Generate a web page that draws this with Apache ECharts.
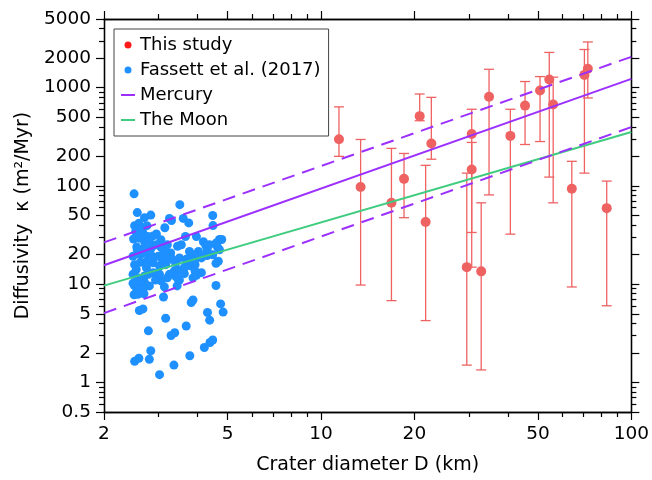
<!DOCTYPE html>
<html>
<head>
<meta charset="utf-8">
<title>Diffusivity vs crater diameter</title>
<script src="https://cdn.jsdelivr.net/npm/echarts@6/dist/echarts.min.js"></script>
<style>
  html, body { margin: 0; padding: 0; background: #fff; }
  #main { width: 652px; height: 480px; }
</style>
</head>
<body>
<div id="main"></div>
<script>
// tick values
var xMajor = [2, 5, 10, 20, 50, 100];
var xMinor = [3, 4, 6, 7, 8, 9, 30, 40, 60, 70, 80, 90];
var yMajor = [0.5, 1, 2, 5, 10, 20, 50, 100, 200, 500, 1000, 2000, 5000];
var yMinor = [0.6, 0.7, 0.8, 0.9, 3, 4, 6, 7, 8, 9, 30, 40, 60, 70, 80, 90,
              300, 400, 600, 700, 800, 900, 3000, 4000];

// this study: diameter, diffusivity, lower / upper error
var studyD    = [11.43, 13.42, 16.87, 18.52, 20.8, 21.74, 22.68, 29.5, 30.6, 30.6, 32.83,
                 34.8, 40.76, 45.45, 50.8, 54.4, 56.0, 64.3, 70.6, 72.4, 83.3];
var studyK    = [299, 97.5, 67.3, 118, 513, 42.9, 270, 14.9, 338, 147, 13.5,
                 810, 323, 657, 937, 1209, 673, 93.7, 1349, 1561, 59.4];
var studyLow  = [200, 9.8, 6.8, 47.5, 461, 4.26, 187, 1.5, 33.6, 14.9, 1.34,
                 81, 32.3, 264, 283, 123, 67.3, 9.37, 135, 786, 6.03];
var studyHigh = [638, 297, 241, 214, 862, 162, 797, 135, 603, 277, 67.3,
                 1539, 603, 1155, 1297, 2284, 1279, 178, 2447, 2920, 112];

// Fassett et al. (2017)
var fassettD = [2.50,2.56,2.83,2.70,3.51,3.25,3.30,3.60,3.75,4.48,4.49,3.14,2.95,3.97,4.71,4.79,4.59,3.55,4.18,4.26,
  3.08,3.77,3.87,4.30,4.03,4.48,4.67,4.59,4.12,3.87,3.97,3.05,3.13,3.44,4.59,2.50,3.11,3.82,3.87,4.75,
  4.84,4.31,4.38,2.60,2.67,3.16,3.68,2.78,3.29,3.38,4.39,4.48,4.21,2.83,2.51,2.59,2.80,3.78,3.36,3.02,
  2.51,2.59,2.62,2.53,2.67,2.49,2.59,2.70,2.77,2.88,2.56,2.62,2.72,2.84,2.95,3.05,3.16,2.51,2.62,2.75,
  2.88,3.02,3.16,3.28,3.31,3.45,3.68,3.50,3.82,3.93,2.48,2.57,2.70,2.88,3.02,3.20,3.40,3.50,4.64,4.71,
  4.12,4.26,3.05,3.08,3.25,3.40,3.37,3.77,3.93,
  2.51,2.55,2.60,2.70,2.80,2.67,2.78,2.98,3.25,3.63,3.91,4.06,4.30,3.50,3.68,2.55,2.70,2.66,2.75,2.78,4.37,
  2.48,2.54,2.64,2.74,2.86,2.93,2.48,2.57,2.69,2.80,2.99,3.08,3.20,3.66,3.46,3.63];
var fassettK = [83,53.5,50.5,47.5,64.5,46.7,44.5,46.7,42,50,39.5,37.5,32.5,30.5,28.5,28.5,26.2,25.2,27,24.5,
  24.5,21.5,19.9,22.4,21.5,19.9,17.1,16.3,13.1,11.6,12.3,10.8,9.4,9.6,9.7,7.8,7.4,6.5,6.9,6.3,
  5.2,5.15,4.3,5.4,5.6,4.5,3.75,3.35,3.0,3.2,2.55,2.7,2.27,2.1,1.64,1.76,1.72,1.87,1.50,1.20,
  39.4,41.6,35.8,34.4,33.0,28.8,29.4,27.2,30.6,31.0,22.4,19.9,21.0,23.3,25.2,23.9,21.5,15.8,16.7,17.1,
  16.5,15.3,15.8,20.8,18.1,24.3,15.8,13.9,15.3,15.8,12.6,11.6,12.1,13.1,12.6,11.6,12.1,11.0,23.9,22.4,
  18.5,19.9,28.4,19.9,17.9,16.5,13.6,18.5,13.6,
  9.6,8.4,9.2,10.4,9.6,8.9,12.6,13.1,12.6,14.7,17.1,19.3,19.6,18.5,17.9,23.9,23.3,37.1,39.4,17.9,25.2,
  19.2,14.1,10.8,14.7,19.2,11.0,10.2,7.9,8.0,27.2,19.2,17.9,25.2,30.6,11.3,12.8];

// fitted trends, evaluated at the ends of the axis
var lineD = [2, 100];
var mercuryK = [15.6, 1230];
var mercuryUpperK = [26.6, 2061];
var mercuryLowerK = [5.08, 397];
var moonK = [9.66, 354];

var FONT = 'DejaVu Sans';
var RED = '#ef6262';
var BLUE = '#1e90ff';
var PURPLE = '#9b30ff';
var GREEN = '#3fcc7f';

function pairs(xs, ys) {
  var out = [];
  for (var i = 0; i < xs.length; i++) out.push([xs[i], ys[i]]);
  return out;
}
var studyBars = [];
for (var i = 0; i < studyD.length; i++) studyBars.push([studyD[i], studyLow[i], studyHigh[i]]);

function fmt(v) { return String(Math.round(v * 10) / 10); }

function makeAxis(pos, min, max, ticks, len, labels, extra) {
  var ax = {
    type: 'log', logBase: 10, position: pos, min: min, max: max,
    axisLine: { show: true, onZero: false, lineStyle: { color: '#000', width: 1.3 } },
    axisTick: { show: true, inside: false, length: len, customValues: ticks,
                lineStyle: { color: '#000', width: 1.2 } },
    axisLabel: { show: false },
    splitLine: { show: false },
    minorTick: { show: false },
    minorSplitLine: { show: false }
  };
  if (labels) {
    ax.axisLabel = { show: true, customValues: labels, formatter: fmt, margin: 13,
                     color: '#000', fontFamily: FONT, fontSize: 18.5 };
  }
  for (var k in extra) ax[k] = extra[k];
  return ax;
}

function renderBars(params, api) {
  var x = api.value(0);
  var lo = api.coord([x, api.value(1)]);
  var hi = api.coord([x, api.value(2)]);
  var w = 5;
  var st = { stroke: RED, lineWidth: 1.3 };
  return {
    type: 'group',
    children: [
      { type: 'line', shape: { x1: lo[0], y1: lo[1], x2: hi[0], y2: hi[1] }, style: st },
      { type: 'line', shape: { x1: lo[0] - w, y1: lo[1], x2: lo[0] + w, y2: lo[1] }, style: st },
      { type: 'line', shape: { x1: hi[0] - w, y1: hi[1], x2: hi[0] + w, y2: hi[1] }, style: st }
    ]
  };
}

var chart = echarts.init(document.getElementById('main'), null, { renderer: 'canvas' });

var option = {
  animation: false,
  backgroundColor: '#fff',
  grid: { left: 104, right: 19, top: 19, bottom: 65, containLabel: false },
  legend: {
    orient: 'vertical', left: 114, top: 29,
    padding: [7, 8, 7, 6],
    borderColor: '#444', borderWidth: 1, backgroundColor: '#fff',
    itemWidth: 14, itemHeight: 7, itemGap: 7,
    textStyle: { fontFamily: FONT, fontSize: 18, color: '#000', lineHeight: 18 },
    selectedMode: false,
    data: [
      { name: 'This study', icon: 'circle', itemStyle: { color: '#ff1a1a' } },
      { name: 'Fassett et al. (2017)', icon: 'circle' },
      { name: 'Mercury', itemStyle: { opacity: 0, borderWidth: 0 } },
      { name: 'The Moon', itemStyle: { opacity: 0, borderWidth: 0 } }
    ]
  },
  xAxis: [
    makeAxis('bottom', 2, 100, xMajor, 8, xMajor, {
      name: 'Crater diameter D (km)', nameLocation: 'middle', nameGap: 44,
      nameTextStyle: { fontFamily: FONT, fontSize: 19, color: '#000' }
    }),
    makeAxis('bottom', 2, 100, xMinor, 5, null, {}),
    makeAxis('top', 2, 100, xMajor, 8, null, {}),
    makeAxis('top', 2, 100, xMinor, 5, null, {})
  ],
  yAxis: [
    makeAxis('left', 0.5, 5000, yMajor, 8, yMajor, {
      name: 'Diffusivity  \u03ba (m\u00b2/Myr)', nameLocation: 'middle', nameGap: 68,
      nameTextStyle: { fontFamily: FONT, fontSize: 19, color: '#000' }
    }),
    makeAxis('left', 0.5, 5000, yMinor, 5, null, {}),
    makeAxis('right', 0.5, 5000, yMajor, 8, null, {}),
    makeAxis('right', 0.5, 5000, yMinor, 5, null, {})
  ],
  series: [
    {
      name: 'Fassett et al. (2017)', type: 'scatter', z: 2,
      data: pairs(fassettD, fassettK),
      symbol: 'circle', symbolSize: 9,
      itemStyle: { color: BLUE, opacity: 1 }
    },
    {
      name: 'This study bars', type: 'custom', z: 3,
      renderItem: renderBars,
      encode: { x: 0, y: [1, 2] },
      data: studyBars
    },
    {
      name: 'This study', type: 'scatter', z: 4,
      data: pairs(studyD, studyK),
      symbol: 'circle', symbolSize: 10,
      itemStyle: { color: RED, opacity: 1 }
    },
    {
      name: 'The Moon', type: 'line', z: 5, symbol: 'none', showSymbol: false,
      data: pairs(lineD, moonK),
      itemStyle: { color: GREEN },
      lineStyle: { color: GREEN, width: 2 }
    },
    {
      name: 'Mercury', type: 'line', z: 6, symbol: 'none', showSymbol: false,
      data: pairs(lineD, mercuryK),
      itemStyle: { color: PURPLE },
      lineStyle: { color: PURPLE, width: 2 }
    },
    {
      name: 'Mercury upper', type: 'line', z: 6, symbol: 'none', showSymbol: false,
      data: pairs(lineD, mercuryUpperK),
      lineStyle: { color: PURPLE, width: 2, type: [13, 8] }
    },
    {
      name: 'Mercury lower', type: 'line', z: 6, symbol: 'none', showSymbol: false,
      data: pairs(lineD, mercuryLowerK),
      lineStyle: { color: PURPLE, width: 2, type: [13, 8] }
    }
  ]
};

chart.setOption(option);
</script>
</body>
</html>
